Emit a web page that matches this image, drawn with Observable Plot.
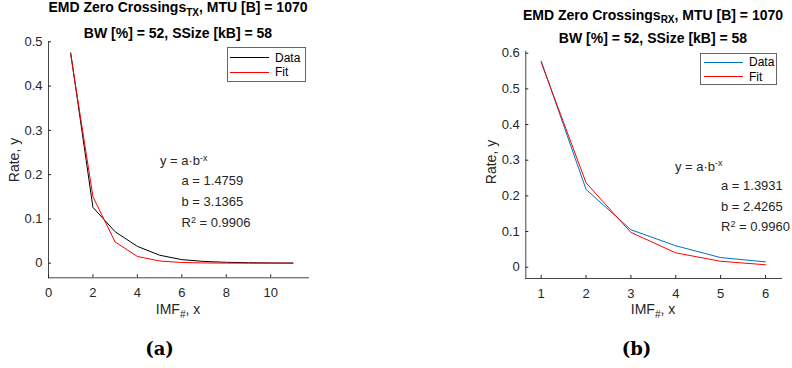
<!DOCTYPE html>
<html>
<head>
<meta charset="utf-8">
<script src="https://cdn.jsdelivr.net/npm/d3@7"></script>
<script src="https://cdn.jsdelivr.net/npm/@observablehq/plot@0.6"></script>
<style>
  html, body { margin: 0; padding: 0; background: #fff; }
  #root { position: relative; width: 792px; height: 368px; overflow: hidden; font-family: "Liberation Sans", Arial, Helvetica, sans-serif; color: #262626; }
  .abs { position: absolute; white-space: nowrap; }
  .title { font-weight: bold; font-size: 14px; color: #000; transform: translateX(-50%); line-height: 16px; }
  .cc { transform: translate(-50%, -50%); }
  .lc { transform: translateY(-50%); }
  .ann { font-size: 13px; line-height: 15px; color: #262626; }
  .lab { font-size: 14px; line-height: 16px; color: #262626; }
  .sup { position: relative; top: -0.5em; font-size: 9px; }
  .sub { position: relative; top: 0.35em; font-size: 10px; }
  .cap { font-family: "DejaVu Serif", "Liberation Serif", serif; font-weight: bold; font-size: 18px; color: #000; }
  .legend { border: 1px solid #666; background: #fff; box-sizing: border-box; }
  .legend .row { position: absolute; font-size: 12px; line-height: 14px; color: #000; }
  svg.plot { position: absolute; top: 0; }
</style>
</head>
<body>
<div id="root"></div>
<script>
// ---- Data ----
// Panel (a): TX
const imfTX = [1, 2, 3, 4, 5, 6, 7, 8, 9, 10, 11];
const dataTX = [0.475, 0.126, 0.071, 0.038, 0.018, 0.008, 0.004, 0.002, 0.001, 0.0005, 0.0003];
const fitTX = [0.4706, 0.1500, 0.0478, 0.0153, 0.0049, 0.0016, 0.0005, 0.0002, 0.0001, 0.00002, 0.00001];
const xTicksTX = [0, 2, 4, 6, 8, 10];
const yTicksTX = [0, 0.1, 0.2, 0.3, 0.4, 0.5];
const xDomainTX = [0, 11.7];
const yDomainTX = [-0.033, 0.5];

// Panel (b): RX
const imfRX = [1, 2, 3, 4, 5, 6];
const dataRX = [0.578, 0.218, 0.105, 0.060, 0.027, 0.015];
const fitRX = [0.5741, 0.2366, 0.0975, 0.0402, 0.0166, 0.0068];
const xTicksRX = [1, 2, 3, 4, 5, 6];
const yTicksRX = [0, 0.1, 0.2, 0.3, 0.4, 0.5, 0.6];
const xDomainRX = [0.657, 6.357];
const yDomainRX = [-0.0317, 0.6056];

const seriesNames = ["Data", "Fit"];
const colorsTX = ["#000000", "#ff0000"];
const colorsRX = ["#0072BD", "#ff0000"];

function rows(xs, ys, name) { return xs.map((x, i) => ({x, y: ys[i], s: name})); }

function panel({xs, d, f, xTicks, yTicks, xDomain, yDomain, colors, margins, left}) {
  const table = rows(xs, d, seriesNames[0]).concat(rows(xs, f, seriesNames[1]));
  const svg = Plot.plot({
    width: 396,
    height: 320,
    marginLeft: margins[0], marginRight: margins[1], marginTop: margins[2], marginBottom: margins[3],
    style: {fontFamily: '"Liberation Sans", Arial, Helvetica, sans-serif', fontSize: "13px", color: "#262626", background: "transparent"},
    x: {domain: xDomain, ticks: xTicks, label: null},
    y: {domain: yDomain, ticks: yTicks, label: null},
    color: {domain: seriesNames, range: colors},
    marks: [
      Plot.frame({anchor: "left", stroke: "#262626", strokeOpacity: 0.85}),
      Plot.frame({anchor: "bottom", stroke: "#262626", strokeOpacity: 0.85}),
      Plot.axisX({ticks: xTicks, tickSize: -3, tickPadding: 13, tickFormat: d => String(d), stroke: "#262626", fill: "#262626"}),
      Plot.axisY({ticks: yTicks, tickSize: -3, tickPadding: 9, tickFormat: d => String(d), stroke: "#262626", fill: "#262626"}),
      Plot.line(table, {x: "x", y: "y", z: "s", stroke: "s", strokeWidth: 1})
    ]
  });
  svg.classList.add("plot");
  svg.style.left = left + "px";
  return svg;
}

const root = document.getElementById("root");

root.appendChild(panel({xs: imfTX, d: dataTX, f: fitTX, xTicks: xTicksTX, yTicks: yTicksTX,
  xDomain: xDomainTX, yDomain: yDomainTX, colors: colorsTX, margins: [48, 88, 41.3, 42.7], left: 0}));
root.appendChild(panel({xs: imfRX, d: dataRX, f: fitRX, xTicks: xTicksRX, yTicks: yTicksRX,
  xDomain: xDomainRX, yDomain: yDomainRX, colors: colorsRX, margins: [129.3, 11, 50.7, 42], left: 396}));

function add(html, cls, x, y, extra) {
  const el = document.createElement("div");
  el.className = "abs " + cls;
  el.style.left = x + "px";
  el.style.top = y + "px";
  if (extra) Object.assign(el.style, extra);
  el.innerHTML = html;
  root.appendChild(el);
  return el;
}

// Titles
add('EMD Zero Crossings<span class="sub">TX</span>, MTU [B] = 1070', "title", 178, -1);
add('BW [%] = 52, SSize [kB] = 58', "title", 178, 24.5);
add('EMD Zero Crossings<span class="sub">RX</span>, MTU [B] = 1070', "title", 653, 6.5);
add('BW [%] = 52, SSize [kB] = 58', "title", 653, 30);

// Axis labels
add('IMF<span class="sub">#</span>, x', "lab cc", 178, 310);
add('Rate, y', "lab", 13.5, 160, {transform: "translate(-50%,-50%) rotate(-90deg)"});
add('IMF<span class="sub">#</span>, x', "lab cc", 653, 310);
add('Rate, y', "lab", 491, 161.5, {transform: "translate(-50%,-50%) rotate(-90deg)"});

// Fit annotations
add('y = a&middot;b<span class="sup">-x</span>', "ann lc", 160, 161);
add('a = 1.4759', "ann lc", 181.5, 180);
add('b = 3.1365', "ann lc", 181.5, 200.5);
add('R<span class="sup">2</span> = 0.9906', "ann lc", 181.5, 223);
add('y = a&middot;b<span class="sup">-x</span>', "ann lc", 675, 166.5);
add('a = 1.3931', "ann lc", 721, 185);
add('b = 2.4265', "ann lc", 721, 205.5);
add('R<span class="sup">2</span> = 0.9960', "ann lc", 721, 227);

// Legends
function legend(x0, y0, w, h, colors, lineX0, lineX1, textX, rowYs) {
  const box = add("", "legend", x0, y0, {width: w + "px", height: h + "px"});
  seriesNames.forEach((name, i) => {
    const ln = document.createElement("div");
    ln.style.cssText = `position:absolute;left:${lineX0 - x0 - 1}px;top:${rowYs[i] - y0 - 1.5}px;width:${lineX1 - lineX0}px;height:0;border-top:1px solid ${colors[i]};`;
    box.appendChild(ln);
    const t = document.createElement("div");
    t.className = "row";
    t.style.left = (textX - x0 - 1) + "px";
    t.style.top = (rowYs[i] - y0 - 8) + "px";
    t.textContent = name;
    box.appendChild(t);
  });
}
legend(226.5, 47, 79, 34.5, colorsTX, 230, 268.5, 275, [57.5, 72]);
legend(700, 53.3, 77, 31.5, colorsRX, 704, 742.7, 749, [62.5, 77]);

// Sub-figure captions
add('(a)', "cap cc", 159.5, 348);
add('(b)', "cap cc", 636.5, 348);
</script>
</body>
</html>
